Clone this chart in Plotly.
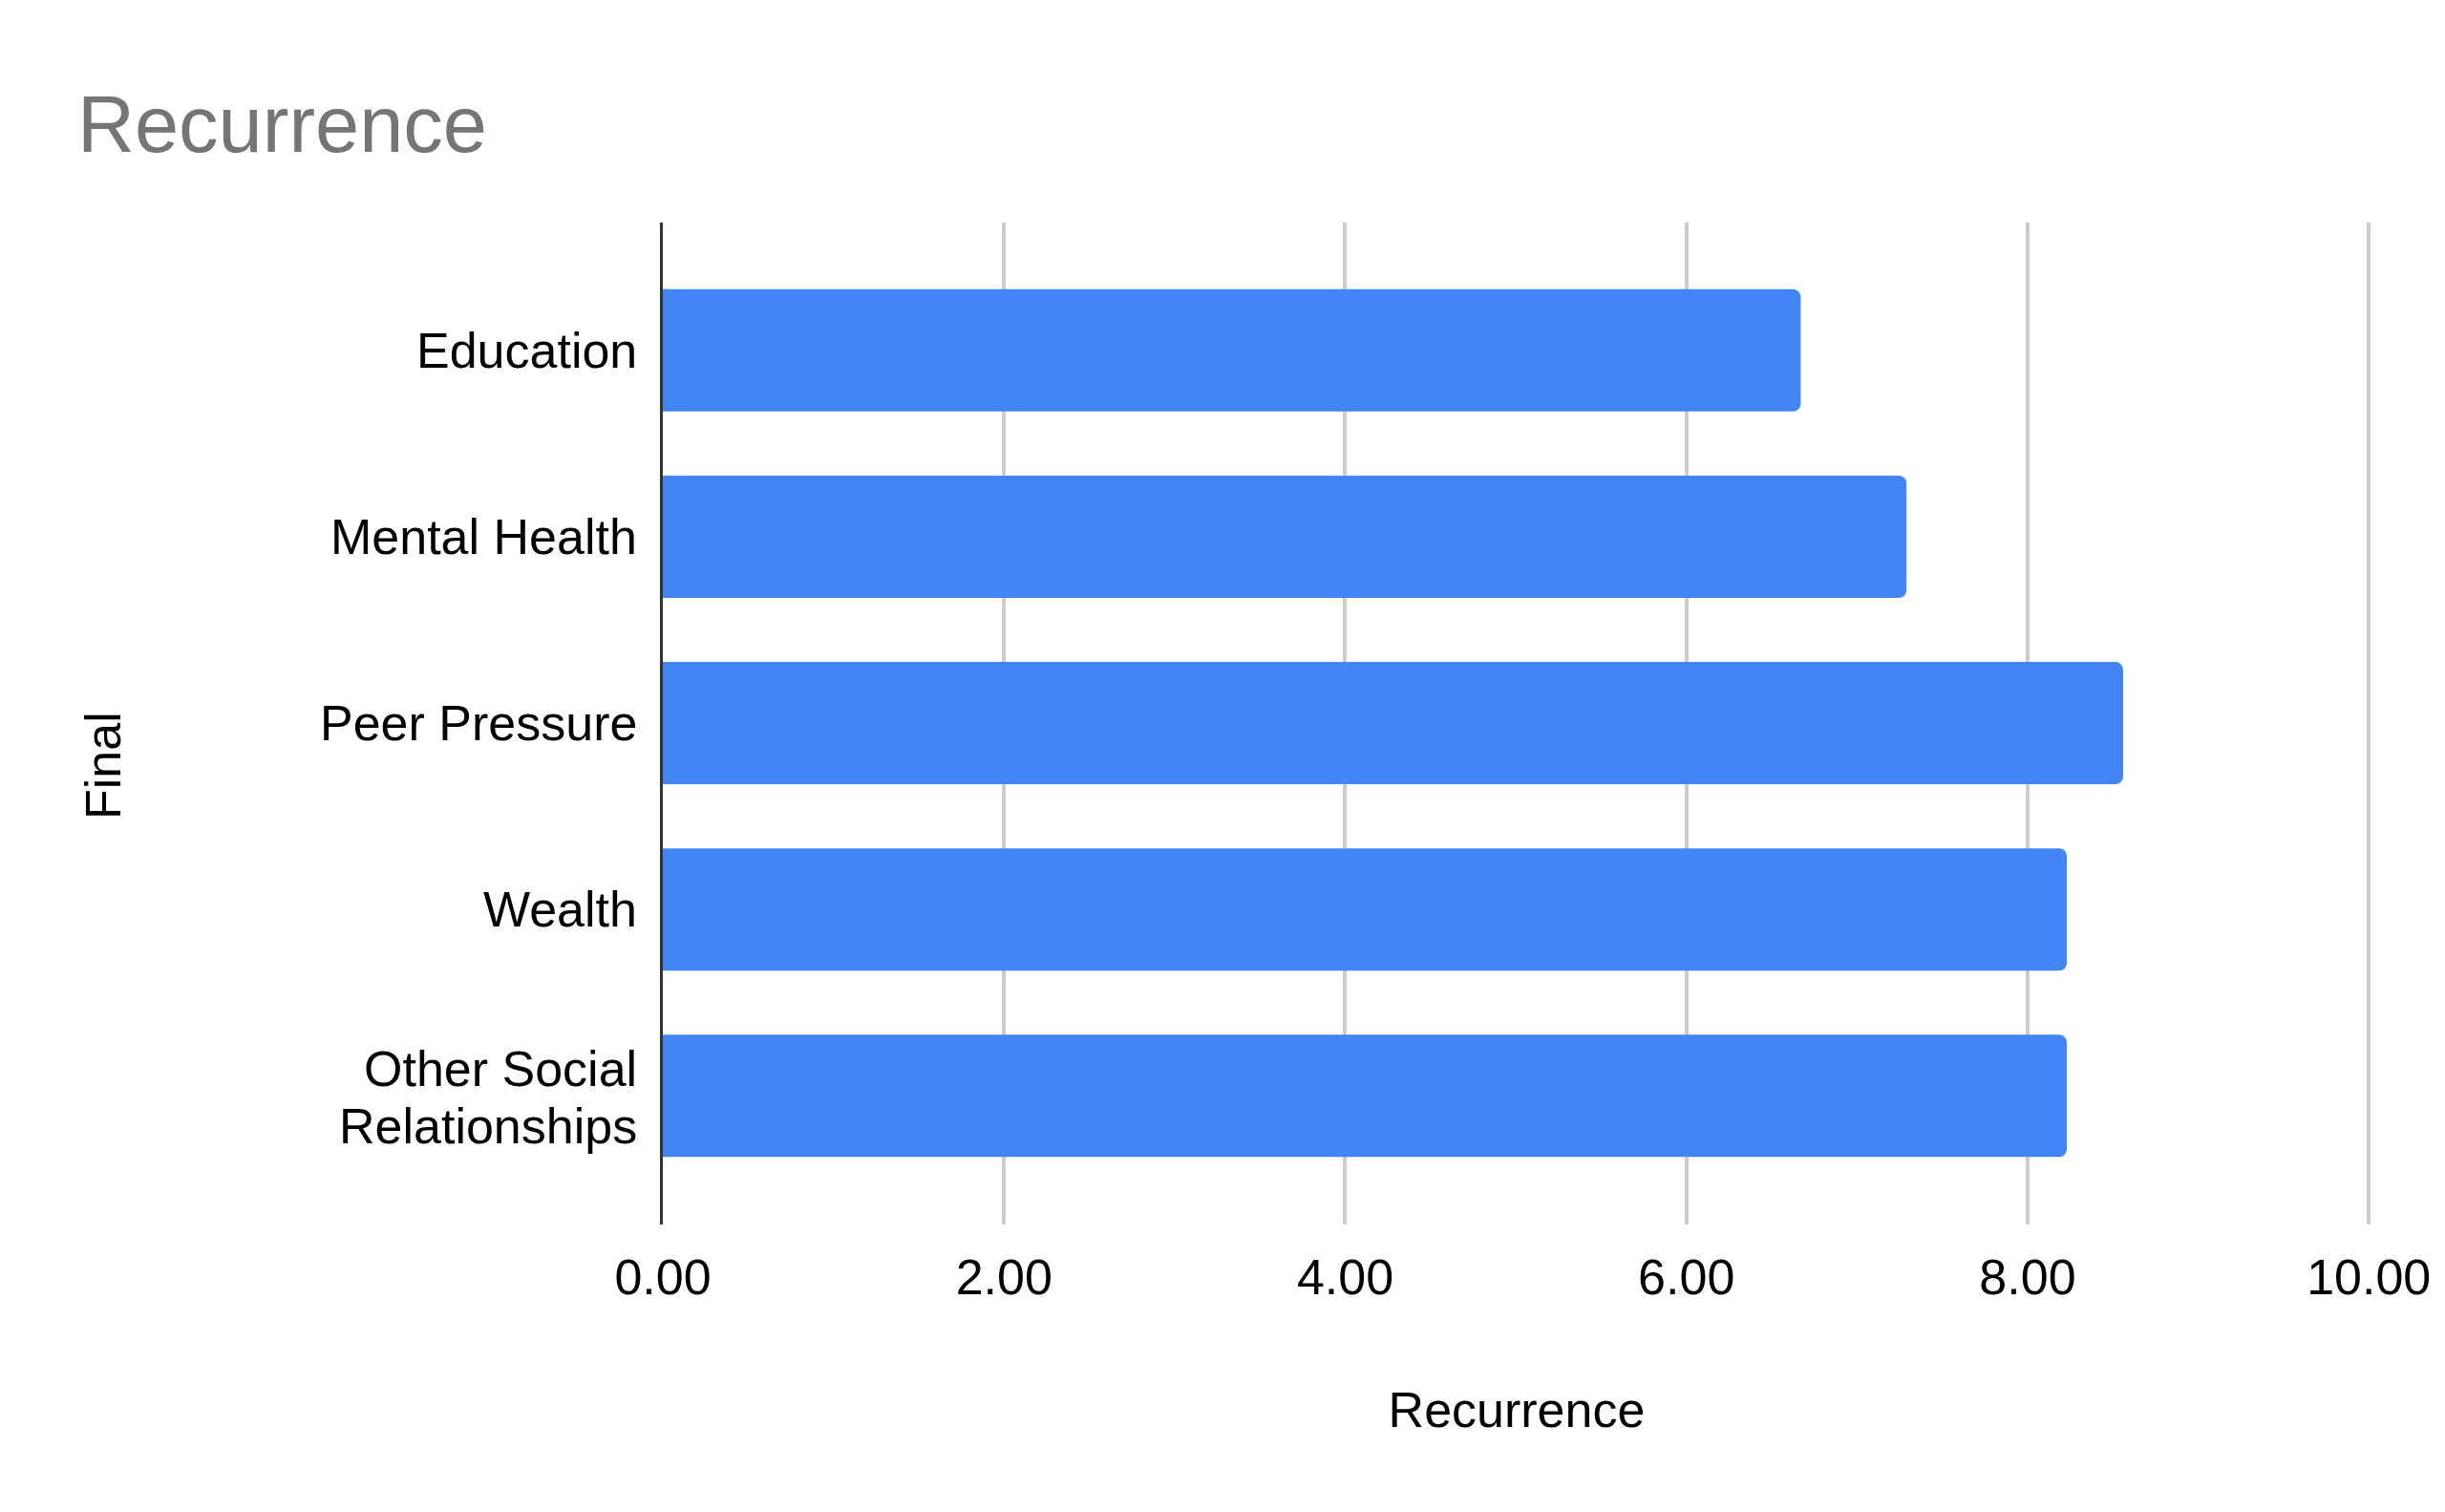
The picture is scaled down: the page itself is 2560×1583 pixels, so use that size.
import plotly.graph_objects as go

categories = ["Education", "Mental Health", "Peer Pressure", "Wealth", "Other Social<br>Relationships"]
values = [6.67, 7.29, 8.56, 8.23, 8.23]
x_ticks = [0, 2, 4, 6, 8, 10]
x_tick_labels = ["0.00", "2.00", "4.00", "6.00", "8.00", "10.00"]

# page body has an 8px margin, so figure coordinates are shifted by -8
OFF = 8
W, H = 2544, 1567
L, T = 694 - OFF, 233 - OFF
PW, PH = 1788, 1049
R, B = W - L - PW, H - T - PH
FONT = "Liberation Sans, Arial, sans-serif"
FS = 52
LINE = 60.5

fig = go.Figure(go.Bar(
    x=values, y=list(range(len(categories))), orientation="h",
    marker=dict(color="#4285F4", line=dict(width=0), cornerradius=8),
    width=0.656,
))

annotations = []
for i, cat in enumerate(categories):
    lines = cat.split("<br>")
    n = len(lines)
    for j, ln in enumerate(lines):
        annotations.append(dict(
            text=ln, xref="x", yref="y", x=0, y=i, xanchor="right", yanchor="middle",
            xshift=-25, yshift=((n - 1) / 2 - j) * LINE - (1.5 if n > 1 else 0),
            showarrow=False, font=dict(family=FONT, size=FS, color="#000000")))

annotations.append(dict(text="Final", textangle=-90, xref="paper", yref="paper",
                        x=(108 - OFF - L) / PW, y=(T + PH - (802 - OFF)) / PH,
                        xanchor="center", yanchor="middle", showarrow=False,
                        font=dict(family=FONT, size=FS, color="#000000")))

fig.update_layout(
    width=W, height=H,
    margin=dict(l=L, r=R, t=T, b=B, autoexpand=False),
    paper_bgcolor="white", plot_bgcolor="white",
    showlegend=False,
    font=dict(family=FONT, size=FS, color="#000000"),
    title=dict(text="Recurrence", x=(81 - OFF) / W, xref="container", xanchor="left",
               y=1 - (130 - OFF) / H, yref="container", yanchor="middle",
               font=dict(family=FONT, size=83, color="#757575")),
    xaxis=dict(range=[0, 10.01], tickvals=x_ticks, ticktext=x_tick_labels,
               showgrid=True, gridcolor="#CCCCCC", gridwidth=3.5,
               zeroline=False, showline=False, ticks="",
               ticklabelstandoff=20,
               tickfont=dict(family=FONT, size=FS, color="#000000"),
               title=dict(text="Recurrence", standoff=92,
                          font=dict(family=FONT, size=FS, color="#000000"))),
    yaxis=dict(range=[len(categories) - 1 + 0.69, -0.686],
               tickvals=list(range(len(categories))), showticklabels=False,
               showgrid=False, zeroline=False, showline=True,
               linecolor="#333333", linewidth=3, ticks=""),
    annotations=annotations,
)

fig.write_html("out.html")
